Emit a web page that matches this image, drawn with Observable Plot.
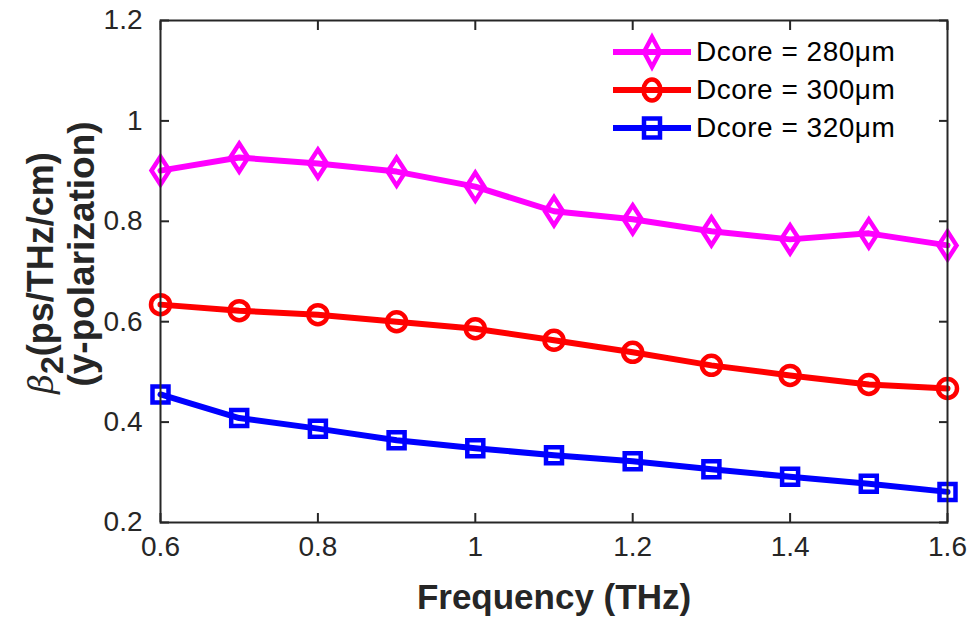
<!DOCTYPE html>
<html>
<head>
<meta charset="utf-8">
<script src="https://cdn.jsdelivr.net/npm/d3@7"></script>
<script src="https://cdn.jsdelivr.net/npm/@observablehq/plot@0.6"></script>
<style>
  html, body { margin: 0; padding: 0; background: #fff; }
  #wrap { position: relative; width: 970px; height: 620px; font-family: "Liberation Sans", Arial, sans-serif; }
  #legend { position: absolute; left: 610px; top: 33px; }
  .lrow { display: flex; align-items: center; height: 38px; }
  .lrow span { font-size: 28px; color: #000; margin-left: 4px; letter-spacing: 0.5px; }
</style>
</head>
<body>
<div id="wrap"></div>
<script>
const freq = [0.6, 0.7, 0.8, 0.9, 1.0, 1.1, 1.2, 1.3, 1.4, 1.5, 1.6];
const d280 = [0.901, 0.927, 0.915, 0.899, 0.869, 0.820, 0.804, 0.780, 0.764, 0.776, 0.752];
const d300 = [0.634, 0.622, 0.614, 0.600, 0.586, 0.563, 0.539, 0.513, 0.493, 0.475, 0.467];
const d320 = [0.455, 0.408, 0.387, 0.364, 0.348, 0.334, 0.322, 0.306, 0.291, 0.277, 0.261];
const seriesNames = ["Dcore = 280μm", "Dcore = 300μm", "Dcore = 320μm"];
const seriesColors = ["#ff00ff", "#ff0000", "#0000ff"];
const xTicks = [0.6, 0.8, 1.0, 1.2, 1.4, 1.6];
const yTicks = [0.2, 0.4, 0.6, 0.8, 1.0, 1.2];

const tallDiamond = {
  draw(ctx) {
    const w = 9, h = 14;
    ctx.moveTo(0, -h); ctx.lineTo(w, 0); ctx.lineTo(0, h); ctx.lineTo(-w, 0); ctx.closePath();
  }
};
const squareSym = {
  draw(ctx) {
    const r = 8;
    ctx.moveTo(-r, -r); ctx.lineTo(r, -r); ctx.lineTo(r, r); ctx.lineTo(-r, r); ctx.closePath();
  }
};
const circleSym = {
  draw(ctx) {
    ctx.moveTo(9.5, 0); ctx.arc(0, 0, 9.5, 0, 2 * Math.PI);
  }
};
const symbols = [tallDiamond, circleSym, squareSym];

const rows = [];
[d280, d300, d320].forEach((arr, i) => arr.forEach((v, j) => rows.push({f: freq[j], v, s: seriesNames[i], i})));

const marks = [];
[d280, d300, d320].forEach((arr, i) => {
  const data = rows.filter(d => d.i === i);
  marks.push(Plot.line(data, {x: "f", y: "v", stroke: seriesColors[i], strokeWidth: 6}));
  marks.push(Plot.dot(data, {x: "f", y: "v", stroke: seriesColors[i], strokeWidth: 4.5, fill: "none", symbol: () => symbols[i], r: 8}));
});

const fmt = d => String(+d.toFixed(1));

const chart = Plot.plot({
  width: 970, height: 620,
  marginLeft: 160, marginRight: 23, marginTop: 20, marginBottom: 98,
  style: {fontFamily: "Liberation Sans, Arial, sans-serif", fontSize: "28px", color: "#262626", background: "#fff", overflow: "visible"},
  x: {domain: [0.6, 1.6]},
  y: {domain: [0.2, 1.2]},
  marks: [
    Plot.axisX({ticks: xTicks, tickSize: 0, tickPadding: 14, label: null, fontSize: 28, tickFormat: fmt}),
    Plot.axisX({ticks: xTicks, tickSize: -9, text: null, label: null, anchor: "bottom", stroke: "#262626", strokeWidth: 2}),
    Plot.axisX({ticks: xTicks, tickSize: -9, text: null, label: null, anchor: "top", stroke: "#262626", strokeWidth: 2}),
    Plot.axisY({ticks: yTicks, tickSize: 0, tickPadding: 18, label: null, fontSize: 28, tickFormat: fmt}),
    Plot.axisY({ticks: yTicks, tickSize: -9, text: null, label: null, anchor: "left", stroke: "#262626", strokeWidth: 2}),
    Plot.axisY({ticks: yTicks, tickSize: -9, text: null, label: null, anchor: "right", stroke: "#262626", strokeWidth: 2}),
    ...marks,
    Plot.frame({stroke: "#262626", strokeWidth: 2})
  ]
});

const svg = d3.select(chart);
svg.append("text")
  .attr("x", 554).attr("y", 609)
  .attr("text-anchor", "middle")
  .attr("font-size", 35).attr("font-weight", "bold").attr("fill", "#262626")
  .text("Frequency (THz)");

const yl = svg.append("text")
  .attr("transform", "translate(53,273) rotate(-90)")
  .attr("text-anchor", "middle")
  .attr("font-size", 36).attr("fill", "#262626");
yl.append("tspan").attr("font-family", "DejaVu Serif, serif").attr("font-style", "italic").attr("font-size", 34).text("β");
yl.append("tspan").attr("font-weight", "bold").attr("dy", 10).attr("font-size", 32).text("2");
yl.append("tspan").attr("font-weight", "bold").attr("dy", -10).text("(ps/THz/cm)");

svg.append("text")
  .attr("transform", "translate(94,254) rotate(-90)")
  .attr("text-anchor", "middle")
  .attr("font-size", 37).attr("font-weight", "bold").attr("fill", "#262626")
  .text("(y-polarization)");

const wrap = document.getElementById("wrap");
wrap.appendChild(chart);

// legend
const legend = document.createElement("div");
legend.id = "legend";
const ns = "http://www.w3.org/2000/svg";
seriesNames.forEach((name, i) => {
  const row = document.createElement("div");
  row.className = "lrow";
  const s = document.createElementNS(ns, "svg");
  s.setAttribute("width", 82); s.setAttribute("height", 38);
  s.style.overflow = "visible";
  const ln = document.createElementNS(ns, "line");
  ln.setAttribute("x1", 3); ln.setAttribute("x2", 81); ln.setAttribute("y1", 19); ln.setAttribute("y2", 19);
  ln.setAttribute("stroke", seriesColors[i]); ln.setAttribute("stroke-width", 6);
  s.appendChild(ln);
  let m;
  if (i === 1) {
    m = document.createElementNS(ns, "ellipse");
    m.setAttribute("cx", 42); m.setAttribute("cy", 19); m.setAttribute("rx", 8.5); m.setAttribute("ry", 10.5);
  } else if (i === 0) {
    m = document.createElementNS(ns, "path");
    m.setAttribute("d", "M0,-15 L8,0 L0,15 L-8,0 Z");
    m.setAttribute("transform", "translate(42,19)");
  } else {
    m = document.createElementNS(ns, "path");
    m.setAttribute("d", "M-8,-9.5 L8,-9.5 L8,9.5 L-8,9.5 Z");
    m.setAttribute("transform", "translate(42,19)");
  }
  m.setAttribute("fill", "none"); m.setAttribute("stroke", seriesColors[i]); m.setAttribute("stroke-width", 4.5);
  s.appendChild(m);
  row.appendChild(s);
  const t = document.createElement("span");
  t.textContent = name;
  row.appendChild(t);
  legend.appendChild(row);
});
wrap.appendChild(legend);
</script>
</body>
</html>
